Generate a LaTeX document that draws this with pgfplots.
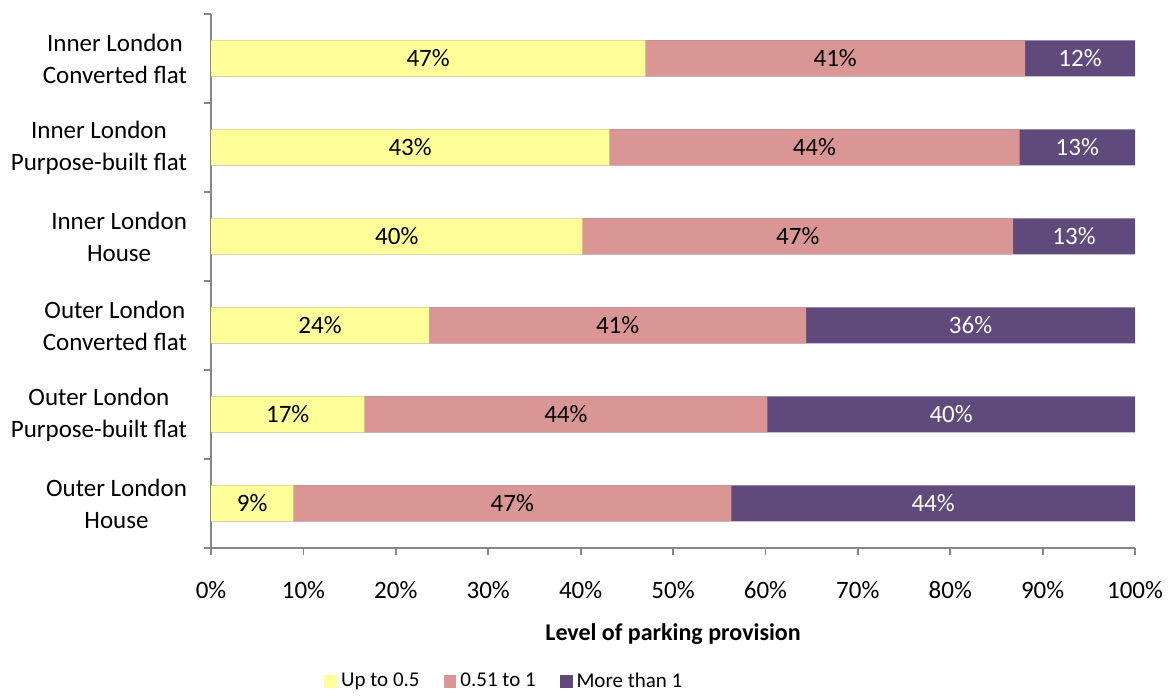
\documentclass[border=0pt]{standalone}
\usepackage{pgfplots}
\pgfplotsset{compat=1.18}
\usepackage{pgfplotstable}
\usepackage{fontspec}
\setmainfont{Carlito}

\definecolor{lowc}{HTML}{FFFF99}
\definecolor{midc}{HTML}{D99694}
\definecolor{highc}{HTML}{604A7B}
\definecolor{axisgray}{HTML}{868686}

% shares of each level (a: up to 0.5, b: 0.51 to 1, c: more than 1), labels as printed
\pgfplotstableread{
y  a     b     c     la lb lc
5  47.0  41.1  11.9  47 41 12
4  43.1  44.4  12.5  43 44 13
3  40.2  46.6  13.2  40 47 13
2  23.6  40.8  35.6  24 41 36
1  16.6  43.6  39.8  17 44 40
0  8.9   47.4  43.7  9  47 44
}\parking

\begin{document}
\begin{tikzpicture}
\begin{axis}[
    scale only axis,
    width=462pt, height=267pt,
    xbar, bar width=18pt, bar shift=0pt,
    xmin=0, xmax=100,
    ymin=-0.5, ymax=5.5,
    axis lines=left,
    axis line style={-, axisgray, line width=0.9pt},
    tick align=outside,
    tick style={axisgray, line width=0.9pt},
    major tick length=3.5pt, minor tick length=3.5pt,
    xtick={0,10,...,100},
    xticklabels={0\%,10\%,20\%,30\%,40\%,50\%,60\%,70\%,80\%,90\%,100\%},
    ytick={0,...,5},
    major y tick style={draw=none},
    minor ytick={-0.5,0.5,...,5.5},
    yticklabels={{Outer London\\House},{Outer London\\Purpose-built flat},{Outer London\\Converted flat},{Inner London\\House},{Inner London\\Purpose-built flat},{Inner London\\Converted flat}},
    every tick label/.append style={font=\fontsize{12.5}{16}\selectfont},
    xticklabel style={anchor=center, yshift=-17.5pt},
    yticklabel style={align=center, anchor=east, xshift=-5pt},
    xlabel={Level of parking provision},
    xlabel style={font=\fontsize{12}{14}\selectfont\bfseries, at={(axis description cs:0.5,0)}, anchor=center, yshift=-43pt},
    legend style={at={(axis description cs:0.3185,-0.25)}, anchor=center, draw=none,
        font=\fontsize{10.5}{12}\selectfont,
        /tikz/every even column/.append style={column sep=10pt}},
    legend columns=3,
    legend image code/.code={\fill (0pt,-3.2pt) rectangle (6.4pt,3.2pt);},
    nodes near coords style={font=\fontsize{12.5}{15}\selectfont, anchor=center},
    clip=false,
]
\addlegendimage{fill=lowc, draw=none}
\addlegendentry{Up to 0.5}
\addlegendimage{fill=midc, draw=none}
\addlegendentry{0.51 to 1}
\addlegendimage{fill=highc, draw=none}
\addlegendentry{More than 1}

% bars drawn from 0, longest first
\addplot[fill=highc, draw=none, forget plot] table[x expr=\thisrow{a}+\thisrow{b}+\thisrow{c}, y=y] {\parking};
\addplot[fill=midc, draw=none, forget plot] table[x expr=\thisrow{a}+\thisrow{b}, y=y] {\parking};
\addplot[fill=lowc, draw=none, forget plot] table[x=a, y=y] {\parking};

% labels at the middle of each segment
\addplot[sharp plot, draw=none, forget plot, point meta=explicit symbolic,
    nodes near coords={\pgfplotspointmeta\%}]
    table[x expr=\thisrow{a}/2, y=y, meta=la] {\parking};
\addplot[sharp plot, draw=none, forget plot, point meta=explicit symbolic,
    nodes near coords={\pgfplotspointmeta\%}]
    table[x expr=\thisrow{a}+\thisrow{b}/2, y=y, meta=lb] {\parking};
\addplot[sharp plot, draw=none, forget plot, point meta=explicit symbolic,
    nodes near coords={\pgfplotspointmeta\%}, nodes near coords style={text=white}]
    table[x expr=\thisrow{a}+\thisrow{b}+\thisrow{c}/2, y=y, meta=lc] {\parking};

\coordinate (bl) at (axis description cs:-0.2284,-0.276);
\coordinate (tr) at (axis description cs:1.040,1.0262);
\end{axis}
\pgfresetboundingbox
\path (bl) rectangle (tr);
\end{tikzpicture}
\end{document}
